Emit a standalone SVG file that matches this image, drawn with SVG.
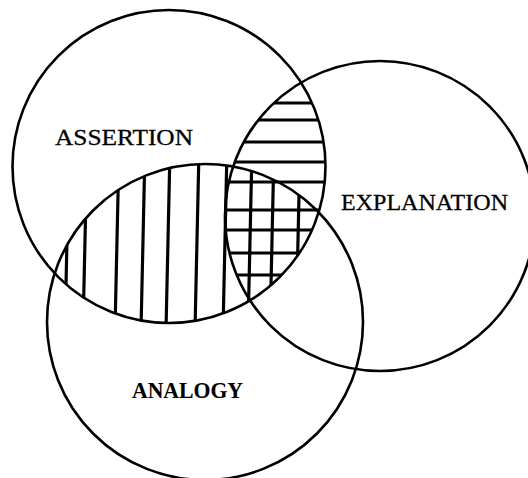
<svg xmlns="http://www.w3.org/2000/svg" width="528" height="478" viewBox="0 0 528 478">
<style>
.c{fill:none;stroke:#000;stroke-width:2.6}
.h{fill:none;stroke:#000;stroke-width:3.2}
.t{font-family:"Liberation Serif","Times New Roman",serif;font-size:24px;fill:#000;stroke:#000;stroke-width:0.3}
.b{font-weight:bold;stroke-width:0.1}
</style>
<defs>
<clipPath id="clipA"><circle cx="169" cy="166.5" r="156.5"/></clipPath>
<clipPath id="clipN"><circle cx="205" cy="322" r="158"/></clipPath>
<clipPath id="clipE"><circle cx="380" cy="216" r="155"/></clipPath>
</defs>
<rect width="528" height="478" fill="#fff"/>
<g id="hatching">
<g clip-path="url(#clipA)"><g clip-path="url(#clipN)">
<path class="h" d="M69 150L65 330M87 150L83 330M119 150L115 330M145 150L141 330M170 150L166 330M199 150L195 330M227 150L223 330M252 150L248 330M274 150L270 330M300 150L296 330"/>
</g></g>
<g clip-path="url(#clipA)"><g clip-path="url(#clipE)">
<path class="h" d="M220 103H340M220 120H340M220 142H340M220 162H340M220 182H340M220 210H340M220 230H340M220 253H340M220 275H340"/>
</g></g>
</g>
<g id="assertion">
<circle class="c" cx="169" cy="166.5" r="156.5"/>
<text class="t" x="55" y="145" textLength="138" lengthAdjust="spacingAndGlyphs">ASSERTION</text>
</g>
<g id="explanation">
<circle class="c" cx="380" cy="216" r="155"/>
<text class="t" x="341" y="209.5" textLength="167" lengthAdjust="spacingAndGlyphs">EXPLANATION</text>
</g>
<g id="analogy">
<circle class="c" cx="205" cy="322" r="158"/>
<text class="t b" x="132" y="398" textLength="111" lengthAdjust="spacingAndGlyphs">ANALOGY</text>
</g>
</svg>
